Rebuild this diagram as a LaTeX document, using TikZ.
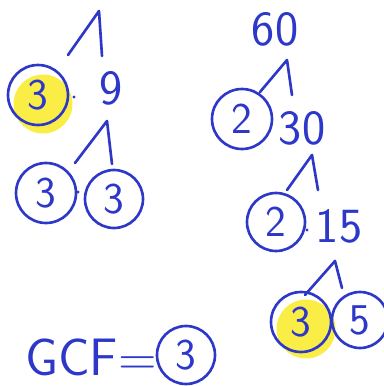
\documentclass[tikz,border=0pt]{standalone}
\usetikzlibrary{positioning}
\definecolor{ink}{RGB}{45,55,200}
\definecolor{marker}{RGB}{250,238,70}
\begin{document}
\begin{tikzpicture}[x=0.02cm,y=-0.02cm,
   every node/.style={text=ink,inner sep=0pt},
   num/.style={font=\sffamily\fontsize{28}{28}\selectfont},
   prime/.style={draw=ink,circle,line width=1.5pt,minimum size=1.2cm,
                 font=\sffamily\fontsize{25}{25}\selectfont},
   hl/.style={circle,fill=marker,minimum size=1.18cm},
   br/.style={draw=ink,line width=1.5pt,line cap=round,line join=round}
]
\useasboundingbox (0,0) rectangle (384,386);

% left tree
\node[hl] (HL1) at (43,104) {};
\node[prime] (P3a) at (38,95) {3};
\fill[ink] (74,97) circle (1.6);
\node[num] (N9) at (111,88) {9};
\coordinate (A1) at (99,11);
\coordinate (A1l) at (68,55);
\coordinate (A1r) at (102,56);
\draw[br] (A1l) -- (A1) -- (A1r);

\coordinate (A2) at (107,121);
\coordinate (A2l) at (75,163);
\coordinate (A2r) at (112,164);
\draw[br] (A2l) -- (A2) -- (A2r);
\node[prime] (P3b) at (46,193) {3};
\node[prime,minimum size=1.16cm] (P3c) at (114,199) {3};
\fill[ink] (78,192) circle (1.6);

% right tree
\node[num] (N60) at (275,29) {60};
\coordinate (A3) at (287,60);
\coordinate (A3l) at (260,92);
\coordinate (A3r) at (292,95);
\draw[br] (A3l) -- (A3) -- (A3r);
\node[prime] (P2a) at (242,119) {2};
\node[num] (N30) at (302,128) {30};

\coordinate (A4) at (312,155);
\coordinate (A4l) at (287,190);
\coordinate (A4r) at (318,190);
\draw[br] (A4l) -- (A4) -- (A4r);
\node[prime,minimum size=1.16cm] (P2b) at (276,222) {2};
\fill[ink] (307,230) circle (1.6);
\node[num] (N15) at (339,226) {15};

\coordinate (A5) at (335,261);
\coordinate (A5l) at (305,295);
\coordinate (A5r) at (342,288);
\draw[br] (A5l) -- (A5) -- (A5r);
\node[hl] (HL2) at (306,329) {};
\node[prime] (P3d) at (301,322) {3};
\node[prime,minimum size=1.12cm] (P5) at (360,320) {5};

% result
\node[num,font=\sffamily\fontsize{30}{30}\selectfont,anchor=east] (GCF) at (157,357) {GCF=};
\node[prime,minimum size=1.16cm] (P3e) at (186,355) {3};
\end{tikzpicture}
\end{document}
